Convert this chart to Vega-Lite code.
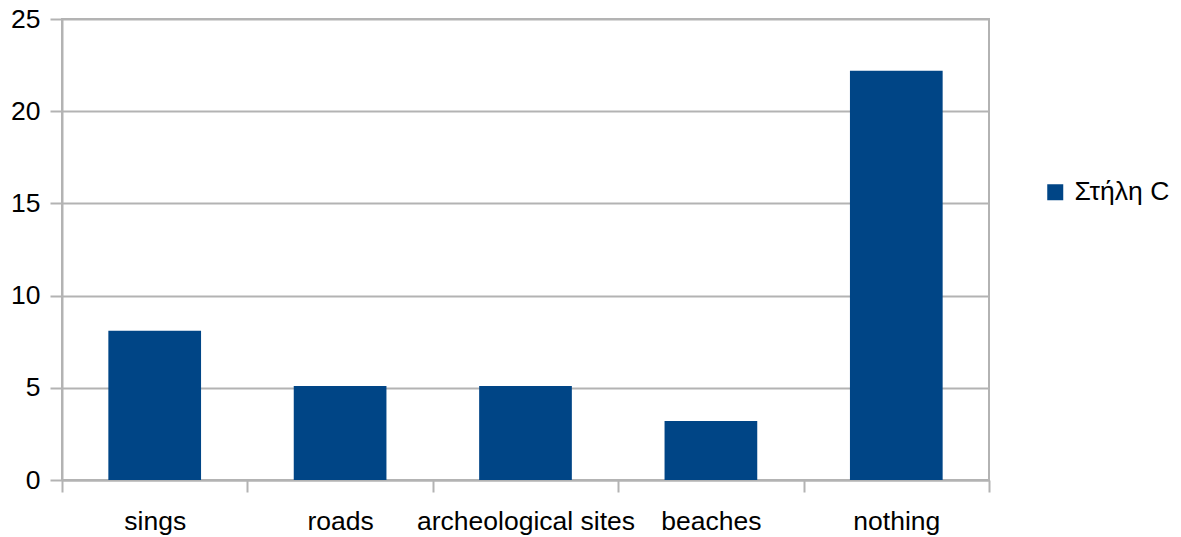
{
  "$schema": "https://vega.github.io/schema/vega-lite/v6.json",
  "autosize": {"type": "none"},
  "width": 927,
  "height": 461,
  "padding": {"left": 62, "top": 19, "right": 192, "bottom": 57},
  "background": "white",
  "config": {
    "font": "Liberation Sans",
    "view": {"stroke": "#b3b3b3", "strokeWidth": 2},
    "axis": {
      "labelFont": "Liberation Sans",
      "labelFontSize": 26.5,
      "labelColor": "#000000",
      "domainColor": "#b3b3b3",
      "domainWidth": 2,
      "tickColor": "#b3b3b3",
      "tickWidth": 2,
      "tickSize": 12,
      "gridColor": "#b3b3b3",
      "gridWidth": 2,
      "title": null,
      "labelLimit": 0
    },
    "legend": {
      "labelFont": "Liberation Sans",
      "labelFontSize": 26.5,
      "labelColor": "#000000",
      "labelLimit": 0
    }
  },
  "data": {
    "values": [
      {"category": "sings", "value": 8.1},
      {"category": "roads", "value": 5.1},
      {"category": "archeological sites", "value": 5.1},
      {"category": "beaches", "value": 3.2},
      {"category": "nothing", "value": 22.2}
    ]
  },
  "mark": {"type": "bar", "width": {"band": 0.5}},
  "encoding": {
    "x": {
      "field": "category",
      "type": "nominal",
      "sort": null,
      "scale": {"paddingInner": 0, "paddingOuter": 0},
      "axis": {"labelAngle": 0, "tickBand": "extent", "labelPadding": 16, "grid": false}
    },
    "y": {
      "field": "value",
      "type": "quantitative",
      "scale": {"domain": [0, 25], "nice": false, "zero": true},
      "axis": {"values": [0, 5, 10, 15, 20, 25], "labelPadding": 10, "grid": true}
    },
    "color": {
      "datum": "Στήλη C",
      "type": "nominal",
      "scale": {"range": ["#004586"]},
      "legend": {
        "title": null,
        "orient": "none",
        "legendX": 980,
        "legendY": 160,
        "symbolType": "square",
        "symbolSize": 256,
        "symbolStrokeWidth": 0,
        "labelOffset": 6,
        "padding": 0
      }
    }
  }
}
